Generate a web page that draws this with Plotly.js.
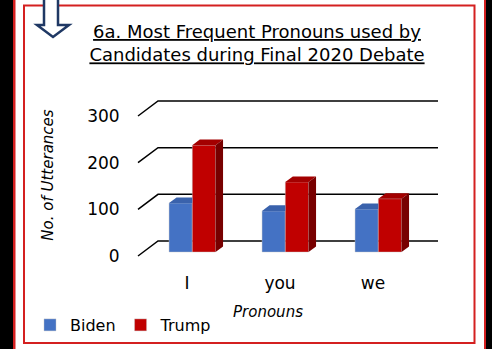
<!DOCTYPE html>
<html><head><meta charset="utf-8">
<script src="https://cdn.plot.ly/plotly-3.0.1.min.js"></script>
<style>html,body{margin:0;padding:0;background:#fff;overflow:hidden}</style>
</head><body><div id="chart" style="width:492px;height:349px"></div>
<script>
// ---- data ----
const categories = ['I', 'you', 'we'];
const bidenValues = [105, 88, 92];
const trumpValues = [229, 150, 114];
const seriesNames = ['Biden', 'Trump'];
const yTickValues = [0, 100, 200, 300];
const yTickLabels = ['0', '100', '200', '300'];
const chartTitle = '6a. Most Frequent Pronouns used by<br>Candidates during Final 2020 Debate';
const xTitle = 'Pronouns';
const yTitle = 'No. of Utterances';

// ---- geometry (pixels of the photographed page) ----
const W = 492, H = 349, L = 98, R = 438, T = 90, B = 260;
const pxPerX = 93, pxPerY = 140 / 300;
const xFront0 = 187, yFront0 = 256, axisPx = 138;
const xmin = -(xFront0 - L) / pxPerX, xmax = xmin + (R - L) / pxPerX;
const ymin = -(B - yFront0) / pxPerY, ymax = (yFront0 - T) / pxPerY;
const floorDX = 20 / pxPerX, floorDY = 15 / pxPerY;
const barShiftX = 5.3 / pxPerX, barShiftY = 4 / pxPerY;
const barDX = 7.5 / pxPerX, barDY = 5.6 / pxPerY;
const barW = 0.25;
const gridX0 = -(xFront0 - axisPx) / pxPerX;
const px = v => (v - L) / (R - L);
const py = v => (B - v) / (B - T);

const FONT = 'DejaVu Sans';
const colors = {
  front: ['#4472C4', '#C00000'],
  top: ['#3A62AC', '#A30000'],
  side: ['#2F5597', '#780000']
};
const seriesValues = [bidenValues, trumpValues];
const offsets = [-barW + barShiftX, barShiftX];
const xIdx = categories.map((c, i) => i);

const traces = [];
seriesValues.forEach((vals, s) => {
  traces.push({
    type: 'bar', name: seriesNames[s], x: xIdx, y: vals, base: barShiftY,
    width: barW, offset: offsets[s],
    marker: { color: colors.front[s], line: { color: 'rgba(200,200,200,0.7)', width: 0.6 } },
    hoverinfo: 'skip'
  });
});
// 3D faces computed from values
seriesValues.forEach((vals, s) => {
  const tx = [], ty = [], sx = [], sy = [];
  vals.forEach((v, i) => {
    const x0 = i + offsets[s], x1 = x0 + barW;
    const yb = barShiftY, yt = barShiftY + v;
    const nextTaller = s === 0 && seriesValues[1][i] >= v;
    if (nextTaller) {
      tx.push(x0, x1, x1, x0 + barDX, x0, null);
      ty.push(yt, yt, yt + barDY, yt + barDY, yt, null);
    } else {
      tx.push(x0, x1, x1 + barDX, x0 + barDX, x0, null);
      ty.push(yt, yt, yt + barDY, yt + barDY, yt, null);
      sx.push(x1, x1, x1 + barDX, x1 + barDX, x1, null);
      sy.push(yb, yt, yt + barDY, yb + barDY, yb, null);
    }
  });
  traces.push({ type: 'scatter', mode: 'lines', x: tx, y: ty, fill: 'toself', fillcolor: colors.top[s],
    line: { width: 0, color: colors.top[s] }, showlegend: false, hoverinfo: 'skip' });
  if (sx.length) traces.push({ type: 'scatter', mode: 'lines', x: sx, y: sy, fill: 'toself', fillcolor: colors.side[s],
    line: { width: 0, color: colors.side[s] }, showlegend: false, hoverinfo: 'skip' });
});

const shapes = [];
// back-wall gridlines with floor diagonals
yTickValues.forEach(v => {
  shapes.push({ type: 'path', xref: 'x', yref: 'y', layer: 'below',
    path: `M${gridX0},${v} L${gridX0 + floorDX},${v + floorDY} L${xmax},${v + floorDY}`,
    line: { color: '#000', width: 1.5 } });
});
// page frame
const rectPx = (x0, y0, x1, y1, fill) => ({ type: 'rect', xref: 'paper', yref: 'paper',
  x0: px(x0), x1: px(x1), y0: py(y1), y1: py(y0), fillcolor: fill, line: { width: 0 }, layer: 'above' });
shapes.push(rectPx(0, -5, 13, 360, '#000'));
shapes.push(rectPx(486, -5, 500, 360, '#000'));
shapes.push(rectPx(13, -5, 15.5, 360, '#D42020'));
shapes.push(rectPx(484, -5, 486, 360, '#D42020'));
shapes.push({ type: 'rect', xref: 'paper', yref: 'paper', x0: px(24), x1: px(474.5), y0: py(343), y1: py(5.5),
  line: { color: '#D42020', width: 2 }, layer: 'above' });
// arrow
const ap = [[44, -3], [44, 25], [37, 25], [53, 37], [69, 25], [58, 25], [58, -3]];
shapes.push({ type: 'path', xref: 'paper', yref: 'paper', layer: 'above',
  path: 'M' + ap.map(p => px(p[0]) + ',' + py(p[1])).join(' L'),
  fillcolor: '#fff', line: { color: '#1F3864', width: 2.5 } });

const layout = {
  width: W, height: H,
  margin: { l: L, r: W - R, t: T, b: H - B, pad: 0, autoexpand: false },
  paper_bgcolor: '#fff', plot_bgcolor: 'rgba(0,0,0,0)',
  font: { family: FONT, color: '#000' },
  title: { text: '<u>' + chartTitle.replace('<br>', '</u><br><u>') + '</u>', x: 257 / W, xanchor: 'center',
    y: 1 - 38 / H, yanchor: 'top', font: { family: FONT, size: 18, color: '#000' } },
  barmode: 'overlay',
  showlegend: true,
  legend: { orientation: 'h', x: px(30), xanchor: 'left', y: py(325), yanchor: 'middle',
    font: { family: FONT, size: 16 }, bgcolor: 'rgba(0,0,0,0)', traceorder: 'normal' },
  xaxis: { range: [xmin, xmax], tickvals: xIdx, ticktext: categories, showgrid: false, zeroline: false,
    showline: false, ticks: 'outside', ticklen: 8, tickcolor: 'rgba(0,0,0,0)',
    tickfont: { family: FONT, size: 17 }, fixedrange: true,
    title: { text: '<i>' + xTitle + '</i>', font: { family: FONT, size: 15 }, standoff: 14 } },
  yaxis: { range: [ymin, ymax], tickvals: yTickValues, ticktext: yTickLabels, showgrid: false, zeroline: false,
    showline: false, ticks: 'outside', ticklen: 15, tickcolor: 'rgba(0,0,0,0)',
    anchor: 'free', position: px(axisPx), tickfont: { family: FONT, size: 17 }, fixedrange: true,
    title: { text: '<i>' + yTitle + '</i>', font: { family: FONT, size: 15 }, standoff: 28 } },
  shapes: shapes
};
Plotly.newPlot('chart', traces, layout, { displayModeBar: false, staticPlot: true });
</script></body></html>
